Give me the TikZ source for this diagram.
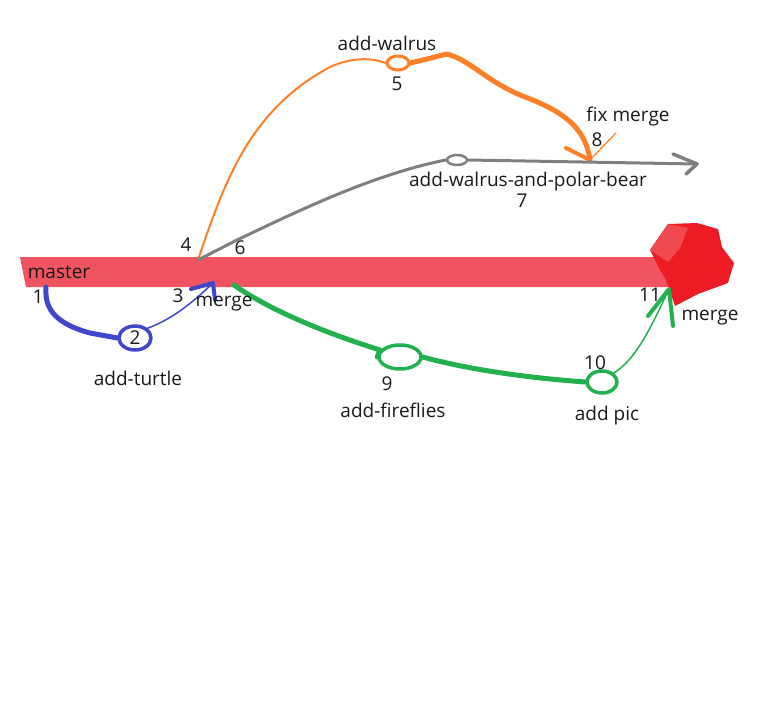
\documentclass[tikz,border=0pt]{standalone}
\usepackage{fontspec}
\setmainfont{Open Sans}
\usetikzlibrary{shapes.geometric}
\definecolor{barred}{RGB}{240,84,96}
\definecolor{headred}{RGB}{237,28,36}
\definecolor{tblue}{RGB}{63,72,204}
\definecolor{worange}{RGB}{255,127,39}
\definecolor{pgray}{RGB}{127,127,127}
\definecolor{fgreen}{RGB}{34,177,76}
\tikzset{
  lbl/.style={font=\fontsize{19}{21}\selectfont, inner sep=0pt, text=black!90},
  commit/.style={ellipse, draw, inner sep=0pt},
}
\begin{document}
\begin{tikzpicture}[x=1pt,y=-1pt, line cap=round, line join=round]
\useasboundingbox (0,0) rectangle (769,712);
% master bar
\fill[barred] (20,257) -- (668,257) -- (668,287) -- (26,287) -- cycle;
\fill[headred] (650,250) -- (668,224) -- (697,223) -- (718,229) -- (722,247) -- (734,263) -- (728,283) -- (698,294) -- (675,306) -- (666,280) -- (660,270) -- cycle;
\fill[headred!80!white] (650,250) -- (668,224) -- (688,228) -- (680,248) -- (668,262) -- cycle;
% coordinates
\coordinate (m1) at (46,287);
\coordinate (m3) at (213,283);
\coordinate (m4) at (198,260);
\coordinate (m6) at (234,285);
\coordinate (m11) at (669,289);
\coordinate (g7end) at (697,164);
\coordinate (m8) at (590,160);
\coordinate (fixtip) at (616,133);
% commits
\node[commit, draw=tblue, line width=3.5pt, minimum width=32pt, minimum height=24pt] (c2) at (135,338) {};
\node[commit, draw=worange, line width=3pt, minimum width=22pt, minimum height=14pt] (c5) at (398,63) {};
\node[commit, draw=pgray, line width=2.5pt, minimum width=20pt, minimum height=10pt] (c7) at (457,160) {};
\node[commit, draw=fgreen, line width=3.5pt, minimum width=42pt, minimum height=24pt] (c9) at (400,357) {};
\node[commit, draw=fgreen, line width=3.5pt, minimum width=30pt, minimum height=22pt] (c10) at (602,382) {};
% blue branch
\draw[tblue, line width=5pt] (m1) .. controls (45,305) and (50,322) .. (90,333) -- (c2.west);
\draw[tblue, line width=1.5pt] (c2.north east) .. controls (175,318) and (195,300) .. (m3);
\draw[tblue, line width=4pt] (191,289) -- (m3) -- (215,300);
% orange branch
\draw[worange, line width=2pt] (m4) .. controls (225,180) and (250,110) .. (330,67) .. controls (350,58) and (370,57) .. (c5.west);
\draw[worange, line width=5pt] (c5.east) -- (447,54) .. controls (470,60) and (485,80) .. (520,95) .. controls (560,110) and (585,125) .. (m8);
\draw[worange, line width=4pt] (566,148) -- (m8);
\draw[worange, line width=1.2pt] (m8) -- (fixtip);
% gray branch
\draw[pgray, line width=3pt] (m4) -- (237,240) .. controls (290,215) and (370,175) .. (c7.west);
\draw[pgray, line width=3pt] (c7.east) -- (g7end);
\draw[pgray, line width=3.5pt] (673,154) -- (g7end) -- (686,174);
% green branch
\draw[fgreen, line width=5pt] (m6) .. controls (255,300) and (300,325) .. (380,350) -- (c9.west);
\draw[fgreen, line width=5pt] (c9.east) .. controls (470,370) and (530,378) .. (c10.west);
\draw[fgreen, line width=1.5pt] (c10.north east) .. controls (635,360) and (650,330) .. (m11);
\draw[fgreen, line width=4pt] (648,316) -- (m11) -- (673,326);
% labels
\node[lbl] (lmaster) at (59,272) {master};
\node[lbl] (l1) at (38,297) {1};
\node[lbl] (l2) at (c2) {2};
\node[lbl] (l3) at (178,296) {3};
\node[lbl] (lmerge1) at (224,304) {merge};
\node[lbl] (lturtle) at (138,378) {add-turtle};
\node[lbl] (l4) at (186,245) {4};
\node[lbl] (l6) at (240,248) {6};
\node[lbl] (lwalrus) at (387,43) {add-walrus};
\node[lbl] (l5) at (397,84) {5};
\node[lbl] (lfix) at (628,117) {fix merge};
\node[lbl] (l8) at (597,140) {8};
\node[lbl] (lpolar) at (528,182) {add-walrus-and-polar-bear};
\node[lbl] (l7) at (522,201) {7};
\node[lbl] (l11) at (650,295) {11};
\node[lbl] (lmerge2) at (710,318) {merge};
\node[lbl] (l9) at (387,384) {9};
\node[lbl] (lfire) at (393,410) {add-fireflies};
\node[lbl] (l10) at (595,363) {10};
\node[lbl] (lpic) at (607,416) {add pic};
\end{tikzpicture}
\end{document}
